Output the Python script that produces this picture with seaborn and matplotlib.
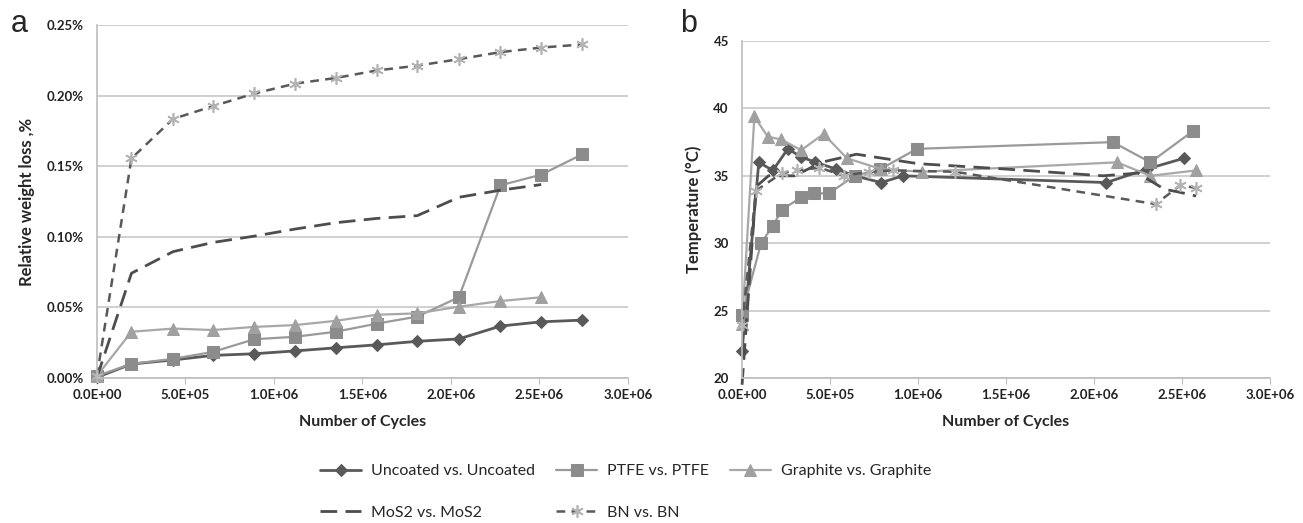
import matplotlib
matplotlib.use("Agg")
import matplotlib.pyplot as plt
import matplotlib.ticker as mticker
import seaborn as sns
import numpy as np
import pandas as pd

# ---- panel a: relative weight loss (%) vs cycles ----
cycles_a = [0, 0.195e6, 0.43e6, 0.655e6, 0.89e6, 1.12e6, 1.35e6, 1.58e6,
            1.81e6, 2.045e6, 2.28e6, 2.51e6, 2.74e6]
uncoated_a = [0.0005, 0.0099, 0.0128, 0.0160, 0.0172, 0.0192, 0.0214, 0.0235,
              0.0260, 0.0277, 0.0368, 0.0398, 0.0410]
ptfe_a = [0.0015, 0.0100, 0.0136, 0.0185, 0.0275, 0.0292, 0.0328, 0.0385,
          0.0435, 0.0572, 0.1365, 0.1440, 0.1583]
graphite_a = [0.0015, 0.0328, 0.0350, 0.0340, 0.0362, 0.0375, 0.0405, 0.0448,
              0.0458, 0.0505, 0.0545, 0.0572]
mos2_a = [0.0005, 0.0742, 0.0895, 0.0960, 0.1005, 0.1055, 0.1100, 0.1130,
          0.1150, 0.1280, 0.1330, 0.1370]
bn_a = [0.0015, 0.1555, 0.1835, 0.1925, 0.2015, 0.2085, 0.2125, 0.2178,
        0.2212, 0.2258, 0.2308, 0.2340, 0.2362]

# ---- panel b: temperature (°C) vs cycles ----
uncoated_b_x = [0, 0.095e6, 0.175e6, 0.26e6, 0.336e6, 0.417e6, 0.535e6, 0.64e6,
                0.79e6, 0.915e6, 2.07e6, 2.30e6, 2.51e6]
uncoated_b = [22.0, 36.0, 35.4, 37.0, 36.4, 36.0, 35.5, 35.0, 34.5, 35.0, 34.5, 35.5, 36.3]
ptfe_b_x = [0, 0.108e6, 0.175e6, 0.228e6, 0.336e6, 0.406e6, 0.493e6, 0.64e6,
            0.786e6, 0.994e6, 2.107e6, 2.32e6, 2.56e6]
ptfe_b = [24.7, 30.0, 31.3, 32.5, 33.4, 33.7, 33.7, 35.0, 35.5, 37.0, 37.5, 36.0, 38.3]
graphite_b_x = [0, 0.07e6, 0.146e6, 0.222e6, 0.336e6, 0.463e6, 0.596e6, 0.79e6,
                1.02e6, 2.13e6, 2.32e6, 2.58e6]
graphite_b = [24.0, 39.4, 37.9, 37.7, 36.9, 38.1, 36.3, 35.5, 35.3, 36.0, 35.0, 35.4]
mos2_b_x = [0, 0.08e6, 0.15e6, 0.3e6, 0.45e6, 0.65e6, 0.8e6, 1.0e6, 1.5e6,
            2.05e6, 2.25e6, 2.4e6, 2.48e6, 2.58e6]
mos2_b = [19.5, 34.2, 35.0, 35.0, 36.0, 36.6, 36.3, 35.9, 35.5, 35.0, 35.2, 34.0, 33.8, 33.5]
bn_b_x = [0, 0.079e6, 0.226e6, 0.31e6, 0.44e6, 0.58e6, 0.72e6, 0.86e6, 1.21e6,
          2.35e6, 2.49e6, 2.58e6]
bn_b = [23.9, 33.9, 35.2, 35.4, 35.6, 35.0, 35.3, 35.4, 35.3, 32.9, 34.3, 34.1]

labels = ["Uncoated vs. Uncoated", "PTFE vs. PTFE", "Graphite vs. Graphite",
          "MoS2 vs. MoS2", "BN vs. BN"]

# line styles per series (Excel-like greyscale)
styles = {
    "Uncoated vs. Uncoated": dict(color="#595959", marker="D", markersize=6,
                                  mfc="#595959", mec="#595959", ls="-", lw=2.0),
    "PTFE vs. PTFE": dict(color="#9a9a9a", marker="s", markersize=8,
                          mfc="#8c8c8c", mec="#8c8c8c", ls="-", lw=1.6),
    "Graphite vs. Graphite": dict(color="#a8a8a8", marker="^", markersize=8,
                                  mfc="#a0a0a0", mec="#a0a0a0", ls="-", lw=1.6),
    "MoS2 vs. MoS2": dict(color="#4d4d4d", marker=None, ls=(0, (6, 3)), lw=2.0),
    "BN vs. BN": dict(color="#595959", marker=(6, 2, 0), markersize=9,
                      mfc="#b3b3b3", mec="#b3b3b3", mew=1.2, ls=(0, (3.5, 2.5)), lw=1.8),
}

sns.set_style("white")
plt.rcParams["font.family"] = ["Lato", "DejaVu Sans"]

fig = plt.figure(figsize=(13.03, 5.23), dpi=100)
ax_a = fig.add_axes([0.0744, 0.2772, 0.4075, 0.675])
ax_b = fig.add_axes([0.5695, 0.2772, 0.4052, 0.6444])

series_a = [(cycles_a, uncoated_a), (cycles_a, ptfe_a), (cycles_a[:12], graphite_a),
            (cycles_a[:12], mos2_a), (cycles_a, bn_a)]
series_b = [(uncoated_b_x, uncoated_b), (ptfe_b_x, ptfe_b), (graphite_b_x, graphite_b),
            (mos2_b_x, mos2_b), (bn_b_x, bn_b)]

for ax, series in [(ax_a, series_a), (ax_b, series_b)]:
    for name, (xs, ys) in zip(labels, series):
        st = dict(styles[name])
        ls = st.pop("ls")
        df = pd.DataFrame({"cycles": xs, "value": ys})
        sns.lineplot(data=df, x="cycles", y="value", ax=ax, label=name,
                     linestyle=ls, errorbar=None, sort=False, clip_on=False,
                     legend=False, **st)

fmt_x = mticker.FuncFormatter(lambda v, p: f"{v:.1E}")
for ax in (ax_a, ax_b):
    ax.set_xlim(0, 3e6)
    ax.set_xticks(np.arange(0, 3.01e6, 0.5e6))
    ax.xaxis.set_major_formatter(fmt_x)
    ax.yaxis.grid(True, color="#c8c8c8", lw=1.2)
    ax.xaxis.grid(False)
    for s in ["top", "right"]:
        ax.spines[s].set_visible(False)
    for s in ["left", "bottom"]:
        ax.spines[s].set_color("#bdbdbd")
        ax.spines[s].set_linewidth(1.2)
    ax.tick_params(axis="x", bottom=True, length=4, color="#bdbdbd", labelsize=9.5, pad=4)
    ax.tick_params(axis="y", left=False, labelsize=9.5, pad=6)
    ax.set_xlabel("Number of Cycles", fontsize=11.5, fontweight="bold", labelpad=10)

ax_a.set_ylim(0, 0.25)
ax_a.set_yticks(np.arange(0, 0.2501, 0.05))
ax_a.yaxis.set_major_formatter(mticker.FuncFormatter(lambda v, p: f"{v:.2f}%"))
ax_a.set_ylabel("Relative weight loss ,%", fontsize=12, fontweight="bold", labelpad=8)

ax_b.set_ylim(20, 45)
ax_b.set_yticks(np.arange(20, 45.1, 5))
ax_b.set_ylabel("Temperature (°C)", fontsize=12, fontweight="bold", labelpad=8)

for ax in (ax_a, ax_b):
    for t in ax.get_xticklabels() + ax.get_yticklabels():
        t.set_fontweight("bold")
        t.set_color("#222222")

fig.text(0.008, 0.955, "a", fontsize=22, family="Liberation Sans", va="center")
fig.text(0.522, 0.955, "b", fontsize=22, family="Liberation Sans", va="center")

# legend: row 1 = Uncoated, PTFE, Graphite ; row 2 = MoS2, BN
handles, hl = ax_a.get_legend_handles_labels()
hmap = dict(zip(hl, handles))
order = ["Uncoated vs. Uncoated", "MoS2 vs. MoS2", "PTFE vs. PTFE", "BN vs. BN",
         "Graphite vs. Graphite"]
fig.legend([hmap[k] for k in order], order, loc="upper center",
           bbox_to_anchor=(0.48, 0.14), ncol=3, frameon=False, fontsize=11.5,
           handlelength=2.6, columnspacing=1.3, labelspacing=1.7, handletextpad=0.6)

fig.savefig("out.png", dpi=100)
